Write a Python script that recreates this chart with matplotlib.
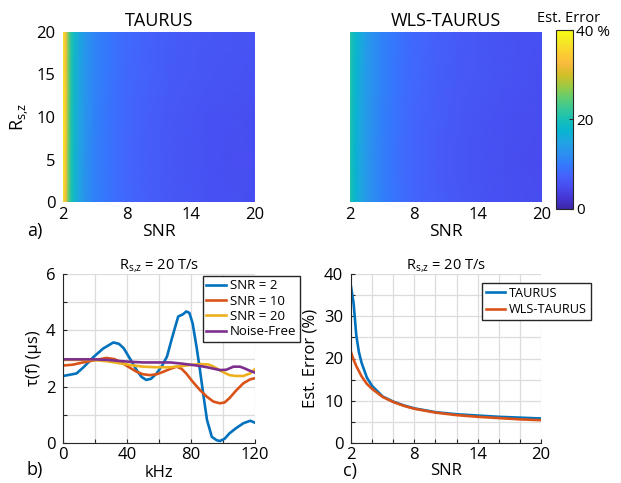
"""
Estimation error maps and delay curves for TAURUS vs WLS-TAURUS.
"""
import numpy as np
import matplotlib
matplotlib.use('Agg')
import matplotlib.pyplot as plt
from matplotlib.colors import LinearSegmentedColormap

plt.rcParams['font.family'] = ['Open Sans', 'DejaVu Sans']
plt.rcParams['axes.unicode_minus'] = False

# --- heatmap data: error (%) vs SNR (columns) and R_s,z (rows) ---
snr = [2, 2.25, 2.5, 2.75, 3, 3.5, 4, 5, 6, 7, 8, 10, 12, 14, 16, 18, 20]
rs = [0, 5, 10, 15, 20]

taurus_err = [
    [36.5, 33.0, 25.5, 21.0, 18.6, 15.1, 13.1, 10.7, 9.5, 8.6, 7.9, 7.0, 6.4, 6.0, 5.6, 5.4, 5.3],
    [37.5, 33.5, 25.5, 21.0, 18.5, 15.0, 13.0, 10.6, 9.4, 8.5, 7.8, 6.9, 6.3, 5.9, 5.5, 5.3, 5.2],
    [38.0, 34.0, 26.0, 21.2, 18.7, 15.2, 13.2, 10.7, 9.5, 8.6, 7.9, 7.0, 6.4, 6.0, 5.6, 5.4, 5.3],
    [37.0, 33.5, 26.0, 21.4, 18.9, 15.4, 13.4, 10.9, 9.7, 8.8, 8.1, 7.2, 6.6, 6.3, 6.0, 5.8, 5.6],
    [37.0, 33.0, 25.5, 21.5, 19.0, 15.5, 13.5, 11.0, 9.8, 8.9, 8.2, 7.3, 6.8, 6.5, 6.2, 6.0, 5.8],
]
wls_err = [
    [20.8, 19.2, 17.7, 16.5, 15.4, 13.6, 12.4, 10.6, 9.4, 8.5, 7.8, 6.9, 6.3, 5.9, 5.5, 5.2, 5.0],
    [20.6, 19.0, 17.5, 16.3, 15.2, 13.5, 12.3, 10.5, 9.3, 8.4, 7.7, 6.8, 6.2, 5.7, 5.4, 5.1, 4.9],
    [20.8, 19.2, 17.7, 16.5, 15.4, 13.7, 12.5, 10.6, 9.4, 8.5, 7.8, 6.9, 6.3, 5.9, 5.5, 5.2, 5.0],
    [21.2, 19.5, 18.0, 16.8, 15.6, 13.9, 12.7, 10.8, 9.6, 8.7, 8.0, 7.1, 6.5, 6.1, 5.8, 5.5, 5.3],
    [21.5, 19.7, 18.2, 17.0, 15.8, 14.0, 12.8, 10.9, 9.7, 8.8, 8.1, 7.2, 6.6, 6.2, 5.9, 5.6, 5.4],
]

# --- delay curves tau(f) in microseconds ---
khz_snr2 = [0, 4, 8.5, 13, 19, 25, 31.5, 35, 38, 42, 46, 49, 52, 55, 58.5, 62, 65, 68, 72,
            75, 77, 79, 81, 83.5, 85.6, 88, 90, 93, 96, 98, 101, 104, 108, 112.7, 117, 120]
tau_snr2 = [2.38, 2.42, 2.47, 2.70, 3.05, 3.35, 3.57, 3.52, 3.36, 2.98, 2.59, 2.35, 2.24, 2.28, 2.47, 2.75,
            3.07, 3.70, 4.49, 4.57, 4.67, 4.62, 4.25, 3.40, 2.59, 1.60, 0.82, 0.22, 0.10, 0.07, 0.15,
            0.34, 0.52, 0.70, 0.79, 0.72]

khz_snr10 = [0, 6, 12.5, 19, 27, 32, 35.6, 41, 46, 50, 54.4, 58.5, 62.7, 67, 71, 74, 77, 81,
             85.6, 90, 94, 98, 101, 104, 108, 112.7, 117, 120]
tau_snr10 = [2.75, 2.78, 2.86, 2.93, 3.02, 2.98, 2.89, 2.70, 2.53, 2.44, 2.41, 2.44, 2.53, 2.63, 2.71,
             2.64, 2.47, 2.18, 1.88, 1.64, 1.47, 1.41, 1.44, 1.59, 1.85, 2.12, 2.26, 2.30]

khz_snr20 = [0, 10, 19, 28, 35.6, 43, 50, 58, 67, 74, 81, 86, 90.8, 93.5, 96, 100, 104, 108,
             112.7, 117, 120]
tau_snr20 = [2.95, 2.95, 2.95, 2.90, 2.83, 2.76, 2.71, 2.69, 2.69, 2.73, 2.78, 2.80, 2.79, 2.73, 2.65,
             2.52, 2.41, 2.38, 2.38, 2.47, 2.62]

khz_free = [0, 10, 19, 28, 35.6, 43, 50, 58, 67, 74, 81, 86, 90, 94, 98, 102, 106.5, 110.6,
            113, 115.8, 118, 120]
tau_free = [2.97, 2.97, 2.97, 2.95, 2.91, 2.88, 2.86, 2.86, 2.86, 2.82, 2.77, 2.73, 2.69, 2.64, 2.59,
            2.60, 2.71, 2.71, 2.66, 2.59, 2.54, 2.50]

# parula (R2014b), every fourth entry
parula_pts = [
    (0.2422, 0.1504, 0.6603), (0.2706, 0.2147, 0.8364), (0.2813, 0.3006, 0.9414),
    (0.2699, 0.3892, 0.9906), (0.1963, 0.4847, 0.9892), (0.1687, 0.5703, 0.9359),
    (0.1248, 0.6459, 0.8883), (0.0297, 0.7082, 0.8163), (0.0964, 0.7500, 0.7120),
    (0.2161, 0.7843, 0.5923), (0.3909, 0.8029, 0.4354), (0.6174, 0.7876, 0.2612),
    (0.8203, 0.7498, 0.1535), (0.9728, 0.7298, 0.2394), (0.9892, 0.8136, 0.1885),
    (0.9597, 0.9135, 0.1423), (0.9769, 0.9839, 0.0805),
]
parula = LinearSegmentedColormap.from_list('parula', parula_pts, N=256)

line_colors = ['#0072BD', '#D95319', '#EDB120', '#7E2F8E']
axis_color = '#262626'
grid_color = '#DCDCDC'
rsz = r'$\mathregular{R_{s{,}z}}$'

W, H = 621, 483
fig = plt.figure(figsize=(W / 100, H / 100), dpi=100)


def px_axes(left, top, right, bottom):
    return fig.add_axes([left / W, 1 - bottom / H, (right - left) / W, (bottom - top) / H])


def place_xlabel(ax, text, y, size):
    # y is the baseline position in axes coordinates
    ax.set_xlabel(text, fontsize=size)
    ax.xaxis.set_label_coords(0.5, y)
    ax.xaxis.label.set_va('baseline')


def place_ylabel(ax, text, x, size):
    ax.set_ylabel(text, fontsize=size)
    ax.yaxis.set_label_coords(x, 0.5)
    ax.yaxis.label.set_va('center')


ax_a = px_axes(63, 32, 255, 202)
ax_w = px_axes(350, 32, 542, 202)
cax = px_axes(556, 30, 573, 209)
ax_b = px_axes(63, 274, 255, 443)
ax_c = px_axes(351, 274, 541, 443)

# Heatmaps
for ax, data, title in [(ax_a, taurus_err, 'TAURUS'), (ax_w, wls_err, 'WLS-TAURUS')]:
    mesh = ax.pcolormesh(snr, rs, np.array(data), cmap=parula, vmin=0, vmax=40,
                         shading='gouraud', rasterized=True)
    ax.set_xlim(2, 20)
    ax.set_ylim(0, 20)
    ax.set_xticks([2, 8, 14, 20])
    ax.set_yticks([0, 5, 10, 15, 20])
    ax.tick_params(length=0, labelsize=12, colors='black')
    ax.tick_params(axis='x', pad=3.5)
    ax.tick_params(axis='y', pad=5.5)
    for s in ax.spines.values():
        s.set_visible(False)
    ax.set_title(title, fontsize=13, pad=4)
    place_xlabel(ax, 'SNR', -0.2, 12.5)

place_ylabel(ax_a, rsz, -0.225, 13)
ax_w.set_yticklabels([])

cb = fig.colorbar(mesh, cax=cax, ticks=[0, 20, 40])
cb.ax.set_yticklabels(['0', '20', '40 %'])
cb.ax.tick_params(direction='in', length=3, width=0.8, labelsize=11, pad=2, color=axis_color)
cb.outline.set_edgecolor(axis_color)
cb.outline.set_linewidth(0.8)
fig.text(569 / W, 1 - 18 / H, 'Est. Error', fontsize=10.5, ha='center', va='center')

# Panel b: delay curves
curves = [
    (khz_snr2, tau_snr2, 'SNR = 2'),
    (khz_snr10, tau_snr10, 'SNR = 10'),
    (khz_snr20, tau_snr20, 'SNR = 20'),
    (khz_free, tau_free, 'Noise-Free'),
]
for (x, y, lab), col in zip(curves, line_colors):
    ax_b.plot(x, y, color=col, lw=1.9, label=lab)
ax_b.set_xlim(0, 120)
ax_b.set_ylim(0, 6)
ax_b.set_xticks([0, 40, 80, 120])
ax_b.set_xticks([20, 60, 100], minor=True)
ax_b.set_yticks([0, 2, 4, 6])
ax_b.set_yticks([1, 3, 5], minor=True)
place_xlabel(ax_b, 'kHz', -0.2, 12)
place_ylabel(ax_b, 'τ(f) (μs)', -0.15, 12)
ax_b.set_title(rsz + ' = 20 T/s', fontsize=10.5, pad=4)
ax_b.legend(loc='upper left', bbox_to_anchor=(203 / W, 1 - 276 / H),
            bbox_transform=fig.transFigure, borderaxespad=0, fontsize=9.5,
            handlelength=1.5, handletextpad=0.3, labelspacing=0.18,
            borderpad=0.25, fancybox=False, framealpha=1, edgecolor=axis_color)

# Panel c: error vs SNR at R_s,z = 20 T/s
ax_c.plot(snr, taurus_err[-1], color=line_colors[0], lw=1.9, label='TAURUS')
ax_c.plot(snr, wls_err[-1], color=line_colors[1], lw=1.9, label='WLS-TAURUS')
ax_c.set_xlim(2, 20)
ax_c.set_ylim(0, 40)
ax_c.set_xticks([2, 8, 14, 20])
ax_c.set_xticks([4, 6, 10, 12, 16, 18], minor=True)
ax_c.set_yticks([0, 10, 20, 30, 40])
ax_c.set_yticks([5, 15, 25, 35], minor=True)
place_xlabel(ax_c, 'SNR', -0.19, 12)
place_ylabel(ax_c, 'Est. Error (%)', -0.215, 12)
ax_c.set_title(rsz + ' = 20 T/s', fontsize=10.5, pad=4)
ax_c.legend(loc='upper left', bbox_to_anchor=(482 / W, 1 - 283 / H),
            bbox_transform=fig.transFigure, borderaxespad=0, fontsize=9.2,
            handlelength=1.5, handletextpad=0.3, labelspacing=0.25,
            borderpad=0.3, fancybox=False, framealpha=1, edgecolor=axis_color)

for ax in (ax_b, ax_c):
    ax.grid(True, which='both', color=grid_color, lw=0.9)
    ax.set_axisbelow(True)
    ax.spines['top'].set_visible(False)
    ax.spines['right'].set_visible(False)
    for s in ('left', 'bottom'):
        ax.spines[s].set_color(axis_color)
        ax.spines[s].set_linewidth(0.8)
    ax.tick_params(which='both', direction='in', color=axis_color, width=0.8,
                   labelsize=12, length=3)
    ax.tick_params(axis='x', which='both', pad=3)
    ax.tick_params(axis='y', which='both', pad=5.5)

# Panel letters
fig.text(27 / W, 1 - 231 / H, 'a)', fontsize=13, va='center')
fig.text(27 / W, 1 - 470 / H, 'b)', fontsize=13, va='center')
fig.text(343 / W, 1 - 471 / H, 'c)', fontsize=13, va='center')

fig.savefig('out.png', dpi=100)
